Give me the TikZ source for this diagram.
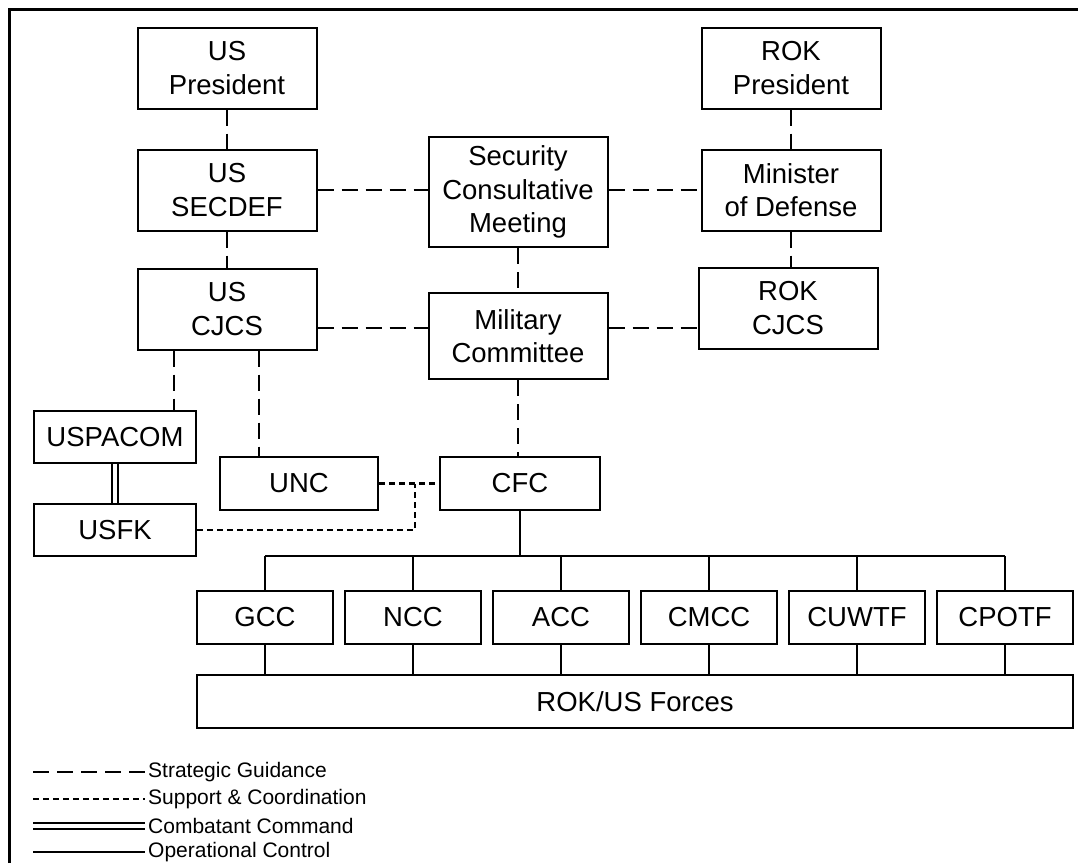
\documentclass[tikz,border=0pt]{standalone}
\usepackage{fontspec}
\setmainfont{Liberation Sans}
\usepackage{tikz}
\usetikzlibrary{arrows}

\newcommand{\boxfont}{\fontsize{27.5}{33.5}\selectfont}
\newcommand{\keyfont}{\fontsize{21}{25}\selectfont}

\tikzset{
	unit/.style={draw, line width=2pt, align=center, font=\boxfont,
		inner sep=0pt, minimum width=179pt, minimum height=81pt},
	small unit/.style={unit, minimum width=136pt, minimum height=53pt},
	guide/.style={line width=2.4pt, dash pattern=on 16pt off 8pt},
	support/.style={line width=2.4pt, dash pattern=on 6pt off 4pt},
	combat/.style={line width=1.8pt, double=white, double distance=4pt},
	opctrl/.style={line width=2pt},
	keytext/.style={font=\keyfont, inner sep=0pt, anchor=west}
}

\begin{document}
\begin{tikzpicture}[x=1pt, y=-1pt]
		\useasboundingbox (0,0) rectangle (1078,863);
		\draw[line width=3pt] (9,863) -- (9,9) -- (1078,9);
		%
		\node[unit] (USP) at (227,68) {US\\President};
		\node[unit] (SD) at (227,190) {US\\SECDEF};
		\node[unit] (USC) at (227,309) {US\\CJCS};
		\node[unit, minimum height=110pt] (SCM) at (518,192) {Security\\Consultative\\Meeting};
		\node[unit, minimum height=86pt] (MC) at (518,336) {Military\\Committee};
		\node[unit] (RP) at (791,68) {ROK\\President};
		\node[unit] (MD) at (791,190) {Minister\\of Defense};
		\node[unit] (RC) at (788,308) {ROK\\CJCS};
		\node[unit, minimum width=162pt, minimum height=52pt] (PAC) at (115,437) {USPACOM};
		\node[unit, minimum width=162pt, minimum height=52pt] (FK) at (115,530) {USFK};
		\node[unit, minimum width=158pt, minimum height=53pt] (UNC) at (299,483.5) {UNC};
		\node[unit, minimum width=160pt, minimum height=53pt] (CFC) at (520,483.5) {CFC};
		\node[unit, minimum width=876pt, minimum height=53pt] (F) at (635,701.5) {ROK/US Forces};
		\foreach \n/\x in {GCC/265, NCC/413, ACC/561, CMCC/709, CUWTF/857, CPOTF/1005}
			\node[small unit] (\n) at (\x,617.5) {\n};
		\coordinate (bus) at (0,556);
		\coordinate (j) at (415,483.5);
		%
		\path[guide]
		% vertical links
		(USP) edge (SD)
		(SD) edge (USC)
		(RP) edge (MD)
		(MD.south) edge (MD.south |- RC.north)
		(SCM) edge (MC)
		(MC.south) edge (MC.south |- CFC.north)
		([xshift=-53pt]USC.south) edge ([xshift=-53pt]USC.south |- PAC.north)
		([xshift=32pt]USC.south) edge ([xshift=32pt]USC.south |- UNC.north)
		% horizontal links
		(SD.east) edge (SD.east -| SCM.west)
		(SCM.east |- MD.west) edge (MD.west)
		([yshift=-19pt]USC.east) edge ([yshift=-19pt]USC.east -| MC.west)
		([yshift=-19pt]USC.east -| MC.east) edge ([yshift=-19pt]USC.east -| RC.west);
		%
		\draw[support] (UNC) -- (CFC);
		\draw[support] (FK.east) -| (j);
		\draw[combat] (PAC) -- (FK);
		%
		\draw[opctrl] (CFC.south) -- (CFC.south |- bus);
		\draw[opctrl] (GCC.north |- bus) -- (CPOTF.north |- bus);
		\foreach \n in {GCC, NCC, ACC, CMCC, CUWTF, CPOTF} {
			\draw[opctrl] (\n.north) -- (\n.north |- bus);
			\draw[opctrl] (\n.south) -- (\n.south |- F.north);
		}
		%
		% key
		\node[keytext] (k1) at (148,772) {Strategic Guidance};
		\node[keytext] (k2) at (148,799) {Support \& Coordination};
		\node[keytext] (k3) at (148,826) {Combatant Command};
		\node[keytext] (k4) at (148,852) {Operational Control};
		\coordinate (s1) at (33,772);
		\coordinate (s2) at (33,799);
		\coordinate (s3) at (33,826);
		\coordinate (s4) at (33,852);
		\draw[guide] (s1) -- ([xshift=-3pt]k1.west);
		\draw[support] (s2) -- ([xshift=-3pt]k2.west);
		\draw[combat] (s3) -- ([xshift=-3pt]k3.west);
		\draw[opctrl] (s4) -- ([xshift=-3pt]k4.west);
	\end{tikzpicture}
\end{document}
